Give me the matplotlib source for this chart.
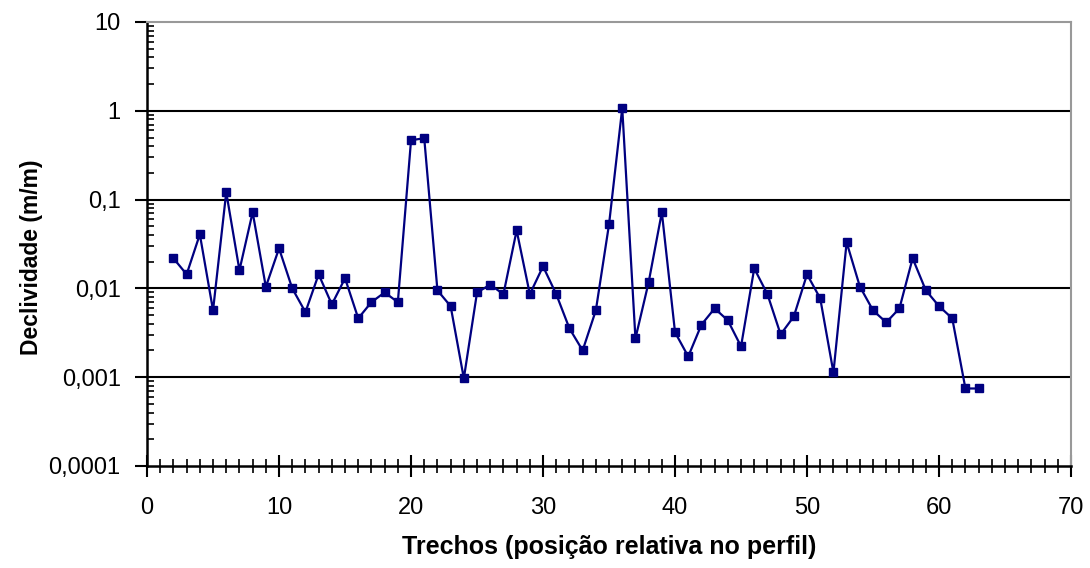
import matplotlib
matplotlib.use('Agg')
import matplotlib.pyplot as plt
from matplotlib.ticker import FixedLocator, LogLocator, MultipleLocator, FuncFormatter

plt.rcParams['font.family'] = ['Liberation Sans', 'DejaVu Sans']

# dados
trechos = list(range(2, 64))
declividade = [
    0.0218, 0.0144, 0.0406, 0.00565, 0.121, 0.016, 0.072, 0.0104, 0.0282, 0.010,
    0.0054, 0.0144, 0.0066, 0.013, 0.0046, 0.0070, 0.009, 0.0070, 0.466, 0.491,
    0.0095, 0.0063, 0.00097, 0.009, 0.011, 0.0086, 0.045, 0.0086, 0.0177, 0.0086,
    0.00354, 0.0020, 0.00565, 0.0527, 1.07, 0.00273, 0.0117, 0.072, 0.0032, 0.00171,
    0.0039, 0.00595, 0.00436, 0.00222, 0.0168, 0.0086, 0.00303, 0.00483, 0.0144, 0.0077,
    0.00113, 0.033, 0.0105, 0.00565, 0.00414, 0.00595, 0.0218, 0.0095, 0.0063, 0.0046,
    0.000746, 0.000746,
]
y_ticks = [0.0001, 0.001, 0.01, 0.1, 1, 10]

fig = plt.figure(figsize=(10.9, 5.68), dpi=100)
ax = fig.add_axes([0.1349, 0.1796, 0.8477, 0.7817])

ax.plot(trechos, declividade, color='#000080', linewidth=1.6,
        marker='s', markersize=6, markerfacecolor='#000080',
        markeredgecolor='#000080', zorder=3)

ax.set_yscale('log')
ax.set_ylim(0.0001, 10)
ax.set_xlim(0, 70)

# grade horizontal
for v in y_ticks[1:-1]:
    ax.axhline(v, color='black', linewidth=1.5, zorder=1)

ax.yaxis.set_major_locator(FixedLocator(y_ticks))
ax.yaxis.set_minor_locator(LogLocator(base=10, subs=range(2, 10)))
ax.yaxis.set_major_formatter(FuncFormatter(lambda v, p: ('%g' % v).replace('.', ',') if v < 1 else '%d' % v))
ax.yaxis.set_minor_formatter(FuncFormatter(lambda v, p: ''))

ax.xaxis.set_major_locator(MultipleLocator(10))
ax.xaxis.set_minor_locator(MultipleLocator(1))

ax.tick_params(axis='y', which='major', direction='out', length=9, width=1.5,
               labelsize=17, pad=10)
ax.tick_params(axis='y', which='minor', direction='in', length=5, width=1.2)
ax.tick_params(axis='x', which='major', direction='inout', length=16, width=1.5,
               labelsize=17, pad=14)
ax.tick_params(axis='x', which='minor', direction='inout', length=10, width=1.2)

for side in ['left', 'bottom']:
    ax.spines[side].set_linewidth(1.8)
    ax.spines[side].set_color('black')
for side in ['top', 'right']:
    ax.spines[side].set_linewidth(1.5)
    ax.spines[side].set_color('#999999')

ax.set_xlabel('Trechos (posição relativa no perfil)', fontsize=18, fontweight='bold', labelpad=12)
ax.set_ylabel('Declividade (m/m)', fontsize=16.5, fontweight='bold')
ax.yaxis.set_label_coords(-0.113, 0.47)

fig.savefig('out.png', dpi=100)
plt.close(fig)
